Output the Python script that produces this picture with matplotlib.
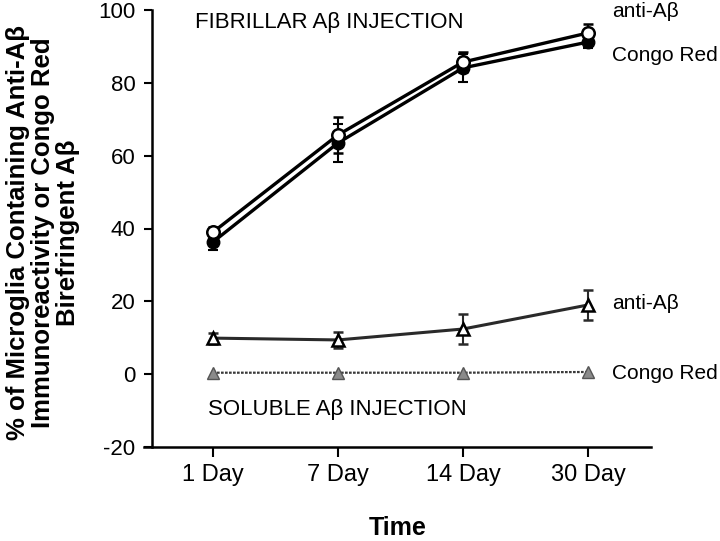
import numpy as np
import matplotlib.pyplot as plt

plt.rcParams['font.family'] = ['Liberation Sans', 'DejaVu Sans']
plt.rcParams['axes.unicode_minus'] = False

days = ['1 Day', '7 Day', '14 Day', '30 Day']
x = np.arange(len(days))

# fibrillar A-beta injection
fib_anti = [39.0, 65.7, 85.7, 93.7]
fib_anti_err = [1.5, 5.0, 2.8, 2.5]
fib_congo = [36.3, 63.5, 84.1, 91.2]
fib_congo_err = [2.2, 5.2, 3.9, 1.6]

# soluble A-beta injection
sol_anti = [9.9, 9.4, 12.4, 19.0]
sol_anti_err = [1.5, 2.2, 4.0, 4.2]
sol_congo = [0.4, 0.4, 0.4, 0.6]

fig = plt.figure(figsize=(7.2, 5.41), dpi=100)
ax = fig.add_axes([144/720, 1 - 447/541, (651-144)/720, (447-10)/541])

# fibrillar: two black lines drawn close together
ax.errorbar(x, fib_congo, yerr=fib_congo_err, color='black', lw=2.4,
            marker='o', ms=9, mfc='black', mec='black',
            ecolor='black', elinewidth=1.5, capsize=3.5, capthick=1.5, zorder=3)
ax.errorbar(x, fib_anti, yerr=fib_anti_err, color='black', lw=2.4,
            marker='o', ms=9, mfc='white', mec='black', mew=1.8,
            ecolor='black', elinewidth=1.5, capsize=3.5, capthick=1.5, zorder=4)

# soluble
ax.errorbar(x, sol_anti, yerr=sol_anti_err, color='#2a2a2a', lw=2.2,
            marker='^', ms=8, mfc='white', mec='black', mew=1.8,
            ecolor='#2a2a2a', elinewidth=1.5, capsize=3.5, capthick=1.5, zorder=3)
ax.plot(x, sol_congo, color='#3a3a3a', lw=1.6, ls=(0, (1.2, 0.6)),
        marker='^', ms=8.5, mfc='#8a8a8a', mec='#555555', mew=1.0, zorder=3)

ax.set_xlim(-0.552, 3.504)
ax.set_ylim(-20, 100)
ax.set_yticks(np.arange(-20, 101, 20))
ax.set_xticks(x)
ax.set_xticklabels(days)

for s in ['top', 'right']:
    ax.spines[s].set_visible(False)
ax.spines['left'].set_position(('data', -0.488))
ax.spines['left'].set_linewidth(1.8)
ax.spines['bottom'].set_linewidth(1.8)
ax.tick_params(axis='y', direction='out', length=6, width=1.5, pad=6, labelsize=16)
ax.tick_params(axis='x', direction='out', length=7, width=1.5, pad=5, labelsize=17)

ax.set_xlabel('Time', fontsize=18, fontweight='bold', labelpad=22)
fig.text(43/720, 1 - 233/541,
         '% of Microglia Containing Anti-A\u03b2\nImmunoreactivity or Congo Red\nBirefringent A\u03b2',
         rotation=90, ha='center', va='center', multialignment='center',
         fontsize=18.5, fontweight='bold', linespacing=1.05)

ax.text(-0.144, 96.7, 'FIBRILLAR A\u03b2 INJECTION', fontsize=16, va='center', ha='left')
ax.text(-0.04, -9.8, 'SOLUBLE A\u03b2 INJECTION', fontsize=16, va='center', ha='left')

ax.text(3.19, 99.5, 'anti-A\u03b2', fontsize=15, va='center', ha='left', clip_on=False)
ax.text(3.19, 87.4, 'Congo Red', fontsize=15, va='center', ha='left', clip_on=False)
ax.text(3.19, 19.5, 'anti-A\u03b2', fontsize=15, va='center', ha='left', clip_on=False)
ax.text(3.19, 0.3, 'Congo Red', fontsize=15, va='center', ha='left', clip_on=False)

fig.savefig('out.png', dpi=100)
